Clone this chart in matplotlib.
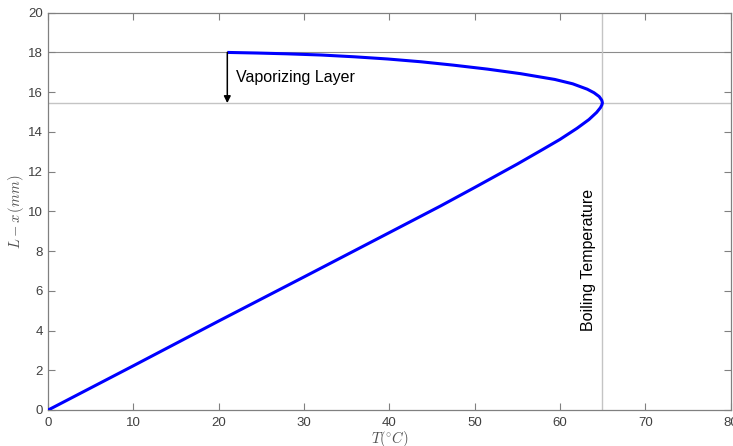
import matplotlib
matplotlib.use("Agg")
import matplotlib.pyplot as plt

# Data
T_curve = [0, 10, 20, 30, 40, 46, 50, 55, 58, 60, 62, 63.4, 64.3, 64.75, 64.93, 64.98,
           64.9, 64.6, 64.0, 63.2, 61.5, 59.4, 55.4, 51.5, 47.5, 43.7, 39.8, 35.9, 32.0, 28.0, 24.5, 21.0]
y_curve = [0, 2.23, 4.48, 6.7, 8.93, 10.27, 11.2, 12.38, 13.12, 13.62, 14.18, 14.62,
           14.98, 15.22, 15.37, 15.47,
           15.6, 15.78, 15.97, 16.15, 16.42, 16.64, 16.93, 17.16, 17.36, 17.53, 17.67, 17.78, 17.87, 17.93, 17.97, 18.0]
T_boil = 64.95
y_top = 18.0
y_boil = 15.45
x_arrow = 21.0
xticks = [0, 10, 20, 30, 40, 50, 60, 70, 80]
yticks = [0, 2, 4, 6, 8, 10, 12, 14, 16, 18, 20]

plt.rcParams['font.family'] = ['Liberation Sans', 'DejaVu Sans']
plt.rcParams['mathtext.fontset'] = 'cm'

fig = plt.figure(figsize=(7.33, 4.46), dpi=100)
ax = fig.add_axes([48.2/733, 36/446, (730.5-48.2)/733, (410-12.7)/446])

ax.axhline(y_top, color='#8c8c8c', lw=0.8, zorder=1)
ax.axhline(y_boil, color='#c4c4c4', lw=1.0, zorder=1)
ax.axvline(T_boil, color='#c4c4c4', lw=1.0, zorder=1)

ax.plot(T_curve, y_curve, color='#0000ff', lw=2.2, zorder=3,
        solid_capstyle='butt', solid_joinstyle='round')

ax.annotate('', xy=(x_arrow, y_boil), xytext=(x_arrow, y_top),
            arrowprops=dict(arrowstyle='-|>', color='black', lw=1.1,
                            mutation_scale=10, shrinkA=0, shrinkB=0), zorder=4)
ax.text(22.0, 16.75, 'Vaporizing Layer', fontsize=11.5, ha='left', va='center',
        color='black')
ax.text(63.3, 4.0, 'Boiling Temperature', fontsize=11.5, rotation=90,
        ha='center', va='bottom', color='black')

ax.set_xlim(0, 80)
ax.set_ylim(0, 20)
ax.set_xticks(xticks)
ax.set_yticks(yticks)
ax.tick_params(direction='in', length=5, width=0.8, color='#808080',
               labelcolor='#404040', labelsize=9.5, top=True, right=True)
ax.tick_params(axis='x', pad=5)
ax.tick_params(axis='y', pad=4)
for s in ax.spines.values():
    s.set_color('#808080')
    s.set_linewidth(0.9)

ax.set_xlabel(r'$T(^{\circ}C)$', fontsize=10.5, color='#505050', labelpad=0)
ax.set_ylabel(r'$L-x\,(mm)$', fontsize=10.5, color='#505050', labelpad=1)

fig.savefig('out.png', dpi=100)
